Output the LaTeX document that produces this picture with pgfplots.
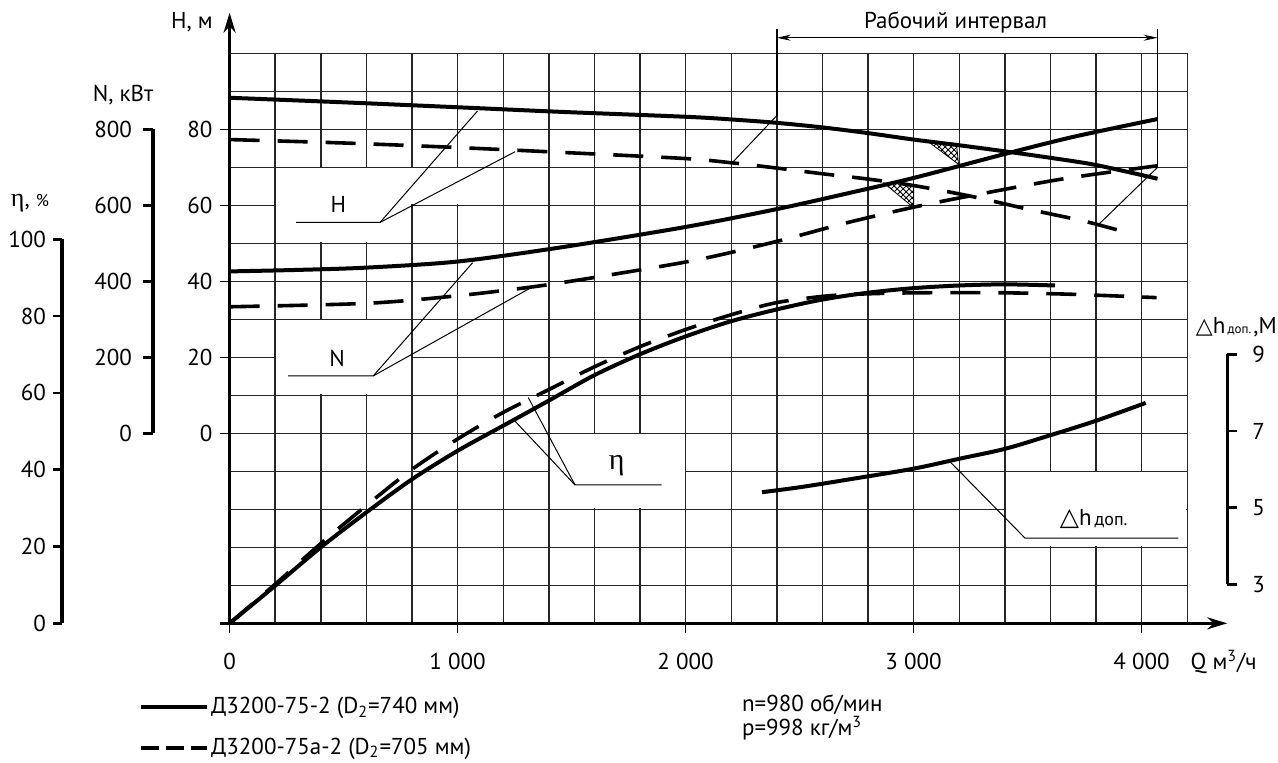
\documentclass[border=0pt]{standalone}
\usepackage{pgfplots}
\pgfplotsset{compat=1.18}
\usepackage{pgfplotstable}
\usepackage{fontspec}
\setmainfont{PT Sans}
\newfontfamily\grk{Liberation Serif}
\newfontfamily\dvs{DejaVu Sans}
\usetikzlibrary{arrows.meta,patterns}

\pgfplotstableread{
Q H
0 88.3
500 87.1
1000 85.8
1450 84.6
2000 83.3
2200 82.6
2400 81.7
2600 80.5
2800 79.0
3000 77.3
3200 75.8
3400 74.2
3600 72.5
3800 70.6
4070 67.0
}\Hsolid

\pgfplotstableread{
Q H
0 77.3
500 76.4
1000 75.2
1500 73.8
2000 72.3
2200 71.2
2400 69.8
2600 68.3
2800 66.9
3000 65.2
3250 62.4
3500 59.0
3750 55.8
3937 52.8
}\Hdash

\pgfplotstableread{
Q N
0 426
300 430
600 436
1000 452
1450 489
2000 543
2400 590
2700 630
3000 672
3400 735
3700 780
4070 827
}\Nsolid

\pgfplotstableread{
Q N
0 333
600 342
1000 362
1361 388
1700 420
2063 458
2400 505
2700 553
3000 595
3250 625
3660 670
4070 704
}\Ndash

\pgfplotstableread{
Q eta
0 0
200 9.9
400 20.0
600 29.2
800 37.9
1000 45.4
1200 52.0
1400 58.6
1600 65.3
1800 70.8
2000 75.5
2200 79.5
2400 82.6
2600 85.2
2800 87.0
3000 88.2
3200 88.9
3400 89.2
3620 88.9
}\Esolid

\pgfplotstableread{
Q eta
0 0
200 10.3
400 21.0
600 31.0
800 40.5
1000 48.5
1200 55.5
1400 61.5
1600 67.5
1800 72.8
2000 77.3
2200 81.2
2400 84.4
2630 86.2
2850 86.8
3068 87.0
3362 87.0
3686 86.6
4066 85.7
}\Edash

\pgfplotstableread{
Q dh
2335 5.45
2500 5.58
2720 5.79
3000 6.07
3200 6.33
3400 6.59
3600 6.95
3800 7.33
4018 7.80
}\DH

\tikzset{
  solidc/.style={line width=2pt, black, smooth},
  dashc/.style={line width=1.8pt, black, smooth, dash pattern=on 15pt off 9pt},
  leader/.style={line width=0.5pt, black},
}
\pgfplotsset{
  /pgf/number format/assume math mode=true,
  base/.style={scale only axis, width=478.8pt, height=285pt, xmin=0, xmax=4200},
}

\begin{document}
\begin{tikzpicture}[font=\fontsize{11.5}{13}\selectfont]
\useasboundingbox (-114.8pt,-69.35pt) rectangle (524.2pt,311.65pt);

\begin{axis}[base, ymin=-50, ymax=100, clip=false,
  axis x line=bottom, axis y line=left,
  x axis line style={line width=1.5pt, -{Stealth[length=10pt,width=6pt]}, shorten >=-20pt, shorten <=-5pt},
  y axis line style={line width=1.5pt, -{Stealth[length=10pt,width=6pt]}, shorten >=-20.3pt},
  xtick={0,1000,2000,3000,4000}, xticklabels={0,1~000,2~000,3~000,4~000},
  minor xtick={0,200,...,4200},
  ytick={0,20,...,80}, minor ytick={-50,-40,...,100},
  grid=both, grid style={line width=0.7pt, black!85},
  major tick length=5pt, minor tick length=0pt, tick align=outside,
  tick style={black, line width=0.8pt},
  xticklabel style={yshift=-6.5pt},
  legend style={at={(-0.095,-0.126)}, anchor=north west, draw=none, fill=none,
    inner sep=0pt, row sep=8.5pt, nodes={inner sep=1pt}},
  legend cell align=left,
  legend image code/.code={\draw[#1] (0pt,0pt) -- (33pt,0pt);},
]
% white label boxes
\fill[white] (axis cs:204,50.25) rectangle (axis cs:796,69.75);
\fill[white] (axis cs:796,60.25) rectangle (axis cs:1196,69.75);
\fill[white] (axis cs:204,10.25) rectangle (axis cs:796,29.75);
\fill[white] (axis cs:1404,-19.75) rectangle (axis cs:1996,-0.25);
\fill[white] (axis cs:3404,-29.75) rectangle (axis cs:4196,-10.25);

\addlegendimage{line width=2pt, black}
\addlegendentry{Д3200-75-2 (D\textsubscript{2}=740 мм)}
\addlegendimage{line width=2pt, black, dash pattern=on 9pt off 3.5pt}
\addlegendentry{Д3200-75а-2 (D\textsubscript{2}=705 мм)}

\addplot[solidc, forget plot] table[x=Q, y=H] {\Hsolid};
\addplot[dashc, forget plot] table[x=Q, y=H] {\Hdash};

% hatched markers
\draw[line width=0.4pt, pattern=crosshatch] (axis cs:3067,76.6) -- (axis cs:3189,75.6) -- (axis cs:3197,70.8) -- cycle;
\draw[line width=0.4pt, pattern=crosshatch] (axis cs:2869,65.9) -- (axis cs:3000,65.4) -- (axis cs:3000,59.4) -- cycle;

% working interval
\draw[line width=0.8pt] (axis cs:2400,83.6) -- (axis cs:2400,106.4);
\draw[line width=0.8pt] (axis cs:4070,70) -- (axis cs:4070,106.4);
\draw[leader, {Stealth[length=7pt,width=3pt]}-{Stealth[length=7pt,width=3pt]}] (axis cs:2400,104.1) -- (axis cs:4070,104.1);
\draw[leader] (axis cs:2400,83.6) -- (axis cs:2198,70.8);
\draw[leader] (axis cs:4070,70) -- (axis cs:3814,55.1);
\node at (axis cs:3184,108.2) {Рабочий интервал};

% leaders and labels
\draw[leader] (axis cs:292,55.5) -- (axis cs:660,55.5) -- (axis cs:1087,84.8);
\draw[leader] (axis cs:660,55.5) -- (axis cs:1252,74.1);
\node at (axis cs:477,60.2) {H};
\draw[leader] (axis cs:257,15.1) -- (axis cs:630,15.1) -- (axis cs:1066,44.9);
\draw[leader] (axis cs:630,15.1) -- (axis cs:1318,38.2);
\node at (axis cs:472,19.6) {N};
\draw[leader] (axis cs:1895,-13.6) -- (axis cs:1515,-13.6) -- (axis cs:1244,3.7);
\draw[leader] (axis cs:1515,-13.6) -- (axis cs:1310,9.4);
\node at (axis cs:1698,-8.6) {\grk\fontsize{15}{17}\selectfont η};
\draw[leader] (axis cs:4161,-27.6) -- (axis cs:3489,-27.6) -- (axis cs:3160,-7.5);
\node at (axis cs:3790,-22.6) {{\dvs\fontsize{12.5}{13}\selectfont △}h{\fontsize{9}{10}\selectfont\,доп.}};
\end{axis}

% N curves
\begin{axis}[base, ymin=-500, ymax=1000, hide axis]
\addplot[solidc] table[x=Q, y=N] {\Nsolid};
\addplot[dashc] table[x=Q, y=N] {\Ndash};
\end{axis}

% efficiency curves
\begin{axis}[base, ymin=0, ymax=150, hide axis]
\addplot[solidc] table[x=Q, y=eta] {\Esolid};
\addplot[dashc] table[x=Q, y=eta] {\Edash};
\end{axis}

% NPSH curve
\begin{axis}[base, ymin=2, ymax=17, hide axis]
\addplot[solidc] table[x=Q, y=dh] {\DH};
\end{axis}

% N scale
\begin{axis}[at={(-38.3pt,95pt)}, anchor=south west, scale only axis, width=1pt, height=152pt,
  xmin=0, xmax=1, ymin=0, ymax=800, axis x line=none, axis y line*=left,
  y axis line style={line width=1.6pt},
  ytick={0,200,...,800}, tick align=outside, major tick length=5pt,
  tick style={line width=1.3pt, black}, yticklabel style={xshift=-2pt}]
\end{axis}

% eta scale
\begin{axis}[at={(-83.8pt,0pt)}, anchor=south west, scale only axis, width=1pt, height=192pt,
  xmin=0, xmax=1, ymin=0, ymax=100, axis x line=none, axis y line*=left,
  y axis line style={line width=1.6pt},
  ytick={0,20,...,100}, tick align=outside, major tick length=4.5pt,
  tick style={line width=1.3pt, black}]
\end{axis}

% dh scale
\begin{axis}[at={(498.8pt,19.5pt)}, anchor=south east, scale only axis, width=1pt, height=115pt,
  xmin=0, xmax=1, ymin=3, ymax=9, axis x line=none, axis y line*=right,
  y axis line style={line width=1.6pt},
  ytick={3,5,7,9}, tick align=outside, major tick length=5pt,
  tick style={line width=1.3pt, black}, yticklabel style={xshift=4pt}]
\end{axis}

% axis titles and notes
\node at (-18.8pt,300.6pt) {H, м};
\node at (-53.3pt,264.2pt) {N, кВт};
\node at (-99.8pt,210.2pt) {{\grk\fontsize{13}{14}\selectfont η}, {\fontsize{8.5}{9}\selectfont \%}};
\node[anchor=east, inner sep=0pt] at (523.8pt,148.2pt) {{\dvs\fontsize{11}{12}\selectfont △}h{\fontsize{6.5}{7}\selectfont\,доп.\,},М};
\node[anchor=west] at (477pt,-19.4pt) {Q м\textsuperscript{3}/ч};
\node[anchor=west] at (252.7pt,-40.8pt) {n=980 об/мин};
\node[anchor=west] at (252.7pt,-52.4pt) {р=998 кг/м\textsuperscript{3}};
\end{tikzpicture}
\end{document}
